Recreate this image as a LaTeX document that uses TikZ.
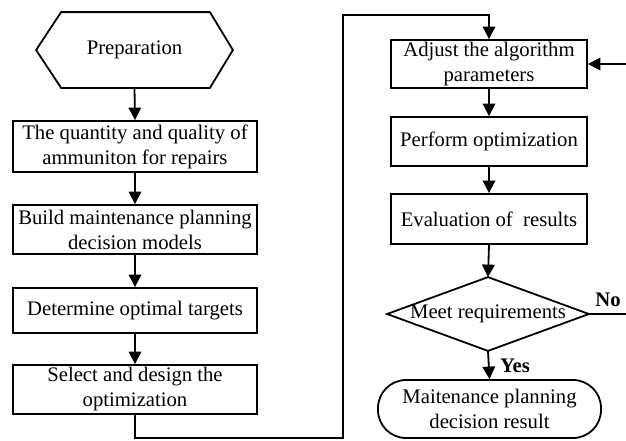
\documentclass[tikz,border=0pt]{standalone}
\usepackage{fontspec}
\setmainfont{Liberation Serif}
\usetikzlibrary{arrows.meta}
\begin{document}
\begin{tikzpicture}[x=1pt,y=-1pt,
  line width=1.8pt,
  every node/.style={font=\fontsize{20.7}{25}\selectfont, align=center, inner sep=0pt},
  lbox/.style={draw, rectangle, minimum width=244pt},
  rbox/.style={draw, rectangle, minimum width=196pt},
  arr/.style={-{Triangle[width=12.5pt,length=12.5pt]}},
  lbl/.style={font=\fontsize{20.7}{25}\selectfont\bfseries}]
\useasboundingbox (0,0) rectangle (626,440);
% left column
\node (prep) [minimum width=195pt, minimum height=74pt] at (134.5,50) {Preparation};
\draw (prep.west) -- ([xshift=25pt]prep.north west) -- ([xshift=-23pt]prep.north east)
  -- (prep.east) -- ([xshift=-23pt]prep.south east) -- ([xshift=25pt]prep.south west) -- cycle;
\node (q) [lbox, minimum height=51pt] at (135,146.5) {The quantity and quality of\\ammuniton for repairs};
\node (b) [lbox, minimum height=49pt] at (135,229.5) {Build maintenance planning\\decision models};
\node (d) [lbox, minimum height=45pt] at (135,310.5) {Determine optimal targets};
\node (s) [lbox, minimum height=49pt] at (135,389.5) {Select and design the\\optimization};
% right column
\node (adj) [rbox, minimum height=48pt] at (489,64) {Adjust the algorithm\\parameters};
\node (perf) [rbox, minimum height=49pt] at (489,141.5) {Perform optimization};
\node (ev) [rbox, minimum height=50pt] at (489,219) {Evaluation of \ results};
\node (meet) [minimum width=200pt, minimum height=72pt] at (488,314) {Meet requirements};
\draw (meet.west) -- (meet.north) -- (meet.east) -- (meet.south) -- cycle;
\node (res) [draw, rectangle, rounded corners=28pt, minimum width=223pt, minimum height=58pt] at (489.5,409) {Maitenance planning\\decision result};
% coordinates
\coordinate (c1) at (343,438);
\coordinate (c2) at (343,15);
\coordinate (noend) at (626,314);
\coordinate (noin) at (626,64);
% connectors
\draw[arr] (prep.south) -- (q.north);
\draw[arr] (q.south) -- (b.north);
\draw[arr] (b.south) -- (d.north);
\draw[arr] (d.south) -- (s.north);
\draw[arr] (s.south) |- (c1) -- (c2) -| (adj.north);
\draw[arr] (adj.south) -- (perf.north);
\draw[arr] (perf.south) -- (ev.north);
\draw[arr] (ev.south) -- (meet.north);
\draw[arr] (meet.south) -- (res.north);
\draw (meet.east) -- (noend);
\draw[arr] (noin) -- (adj.east);
\node[lbl] (no) at (608,300) {No};
\node[lbl] (yes) at (515,366) {Yes};
\end{tikzpicture}
\end{document}
